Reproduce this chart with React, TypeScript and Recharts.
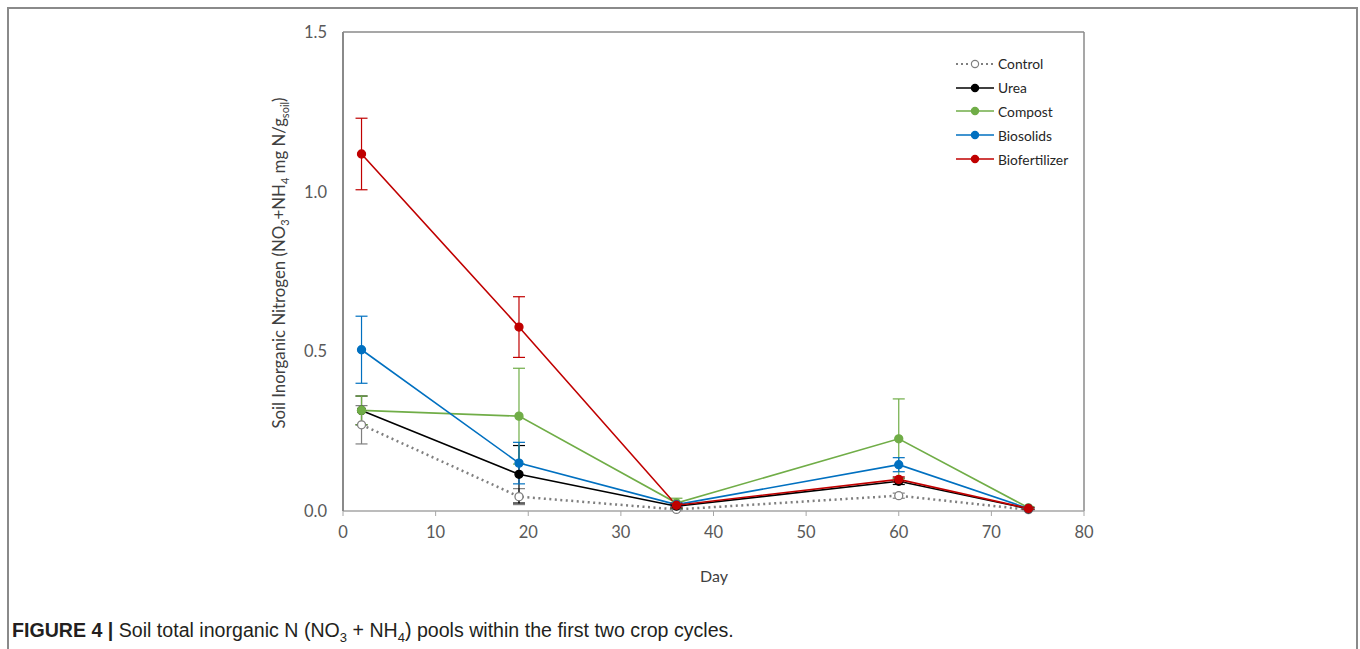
import { ErrorBar, Line, LineChart, ReferenceLine, XAxis, YAxis } from "recharts"

const days = [2, 19, 36, 60, 74]
const xTicks = [0, 10, 20, 30, 40, 50, 60, 70, 80]
const yTicks = [0, 0.5, 1.0, 1.5]

const control = [0.27, 0.045, 0.005, 0.048, 0.004]
const controlErr = [0.06, 0.025, 0.004, 0.008, 0.003]
const urea = [0.315, 0.115, 0.015, 0.093, 0.007]
const ureaErr = [0.045, 0.09, 0.006, 0.01, 0.003]
const compost = [0.315, 0.297, 0.025, 0.226, 0.01]
const compostErr = [0.045, 0.15, 0.015, 0.125, 0.004]
const biosolids = [0.505, 0.15, 0.02, 0.145, 0.008]
const biosolidsErr = [0.105, 0.065, 0.006, 0.022, 0.003]
const biofertilizer = [1.118, 0.576, 0.018, 0.099, 0.008]
const biofertilizerErr = [0.112, 0.095, 0.006, 0.008, 0.003]

const series = [
  { key: "control", name: "Control", color: "#7f7f7f", dashed: true },
  { key: "urea", name: "Urea", color: "#000000", dashed: false },
  { key: "compost", name: "Compost", color: "#70ad47", dashed: false },
  { key: "biosolids", name: "Biosolids", color: "#0070c0", dashed: false },
  { key: "biofertilizer", name: "Biofertilizer", color: "#c00000", dashed: false },
]

const data = days.map((day, i) => ({
  day,
  control: control[i],
  controlErr: controlErr[i],
  urea: urea[i],
  ureaErr: ureaErr[i],
  compost: compost[i],
  compostErr: compostErr[i],
  biosolids: biosolids[i],
  biosolidsErr: biosolidsErr[i],
  biofertilizer: biofertilizer[i],
  biofertilizerErr: biofertilizerErr[i],
}))

const font = "Lato, 'Open Sans', sans-serif"
const tickStyle = { fill: "#595959", fontSize: 16.5, fontFamily: font }

// legend drawn as an overlay so it doesn't eat into the plot width
function LegendBox() {
  return (
    <div style={{ position: "absolute", left: 955, top: 52, fontFamily: font, fontSize: 13.8, color: "#262626" }}>
      {series.map(s => (
        <div key={s.key} style={{ display: "flex", alignItems: "center", height: 23.8 }}>
          <svg width={40} height={12} style={{ marginRight: 3 }}>
            <line
              x1={1}
              x2={39}
              y1={6}
              y2={6}
              stroke={s.color}
              strokeWidth={s.dashed ? 2.2 : 1.6}
              strokeDasharray={s.dashed ? "2 3" : undefined}
            />
            <circle cx={20} cy={6} r={3.6} fill={s.dashed ? "#fff" : s.color} stroke={s.color} strokeWidth={1.2} />
          </svg>
          <span>{s.name}</span>
        </div>
      ))}
    </div>
  )
}

function YLabel() {
  return (
    <text
      x={0}
      y={0}
      transform="translate(285, 263) rotate(-90)"
      textAnchor="middle"
      fill="#404040"
      fontSize={16.8}
      fontFamily={font}
    >
      Soil Inorganic Nitrogen (NO
      <tspan dy={4} fontSize={11}>3</tspan>
      <tspan dy={-4}>+NH</tspan>
      <tspan dy={4} fontSize={11}>4</tspan>
      <tspan dy={-4}> mg N/g</tspan>
      <tspan dy={4} fontSize={11}>soil</tspan>
      <tspan dy={-4}>)</tspan>
    </text>
  )
}

function XLabel() {
  return (
    <text x={714} y={582} textAnchor="middle" fill="#404040" fontSize={16} fontFamily={font}>
      Day
    </text>
  )
}

export default function App() {
  return (
    <div style={{ position: "absolute", left: 0, top: 0, width: 1360, height: 649, background: "#fff", overflow: "hidden" }}>
      <div
        style={{
          position: "absolute",
          left: 7,
          top: 7,
          width: 1347,
          height: 700,
          borderTop: "2px solid #8a8a8a",
          borderLeft: "2px solid #8a8a8a",
          borderRight: "2px solid #8a8a8a",
        }}
      />
      <div style={{ position: "absolute", left: 0, top: 0 }}>
        <LineChart width={1360} height={600} data={data} margin={{ top: 32, right: 276, left: 283, bottom: 59 }}>
          <XAxis
            dataKey="day"
            type="number"
            domain={[0, 80]}
            ticks={xTicks}
            tick={tickStyle}
            tickSize={5}
            tickMargin={10}
            tickLine={{ stroke: "#a6a6a6" }}
            axisLine={{ stroke: "#a6a6a6", strokeWidth: 1.5 }}
            height={30}
            label={<XLabel />}
          />
          <YAxis
            type="number"
            domain={[0, 1.5]}
            ticks={yTicks}
            tickFormatter={(v: number) => v.toFixed(1)}
            tick={tickStyle}
            tickSize={0}
            tickMargin={16}
            axisLine={{ stroke: "#8a8a8a", strokeWidth: 2 }}
            width={60}
            label={<YLabel />}
          />
          <ReferenceLine y={1.5} stroke="#8a8a8a" strokeWidth={1.5} />
          <ReferenceLine x={80} stroke="#8a8a8a" strokeWidth={1.5} />
          {series.map(s => (
            <Line
              key={s.key}
              dataKey={s.key}
              name={s.name}
              type="linear"
              stroke={s.color}
              strokeWidth={s.dashed ? 2.5 : 1.6}
              strokeDasharray={s.dashed ? "2 3.5" : undefined}
              dot={{ r: 4, fill: s.dashed ? "#fff" : s.color, stroke: s.color, strokeWidth: 1.3, strokeDasharray: "" }}
              isAnimationActive={false}
            >
              <ErrorBar
                dataKey={s.key + "Err"}
                width={6}
                stroke={s.color}
                strokeWidth={1.2}
                direction="y"
                isAnimationActive={false}
              />
            </Line>
          ))}
        </LineChart>
      </div>
      <LegendBox />
      <div
        style={{
          position: "absolute",
          left: 12,
          top: 619,
          fontFamily: "'Liberation Sans Narrow', 'Liberation Sans', sans-serif",
          fontSize: 19.6,
          color: "#231f20",
          whiteSpace: "nowrap",
        }}
      >
        <b>FIGURE 4 |</b> Soil total inorganic N (NO<sub style={{ fontSize: 13 }}>3</sub> + NH<sub style={{ fontSize: 13 }}>4</sub>) pools within the first two crop cycles.
      </div>
    </div>
  )
}
